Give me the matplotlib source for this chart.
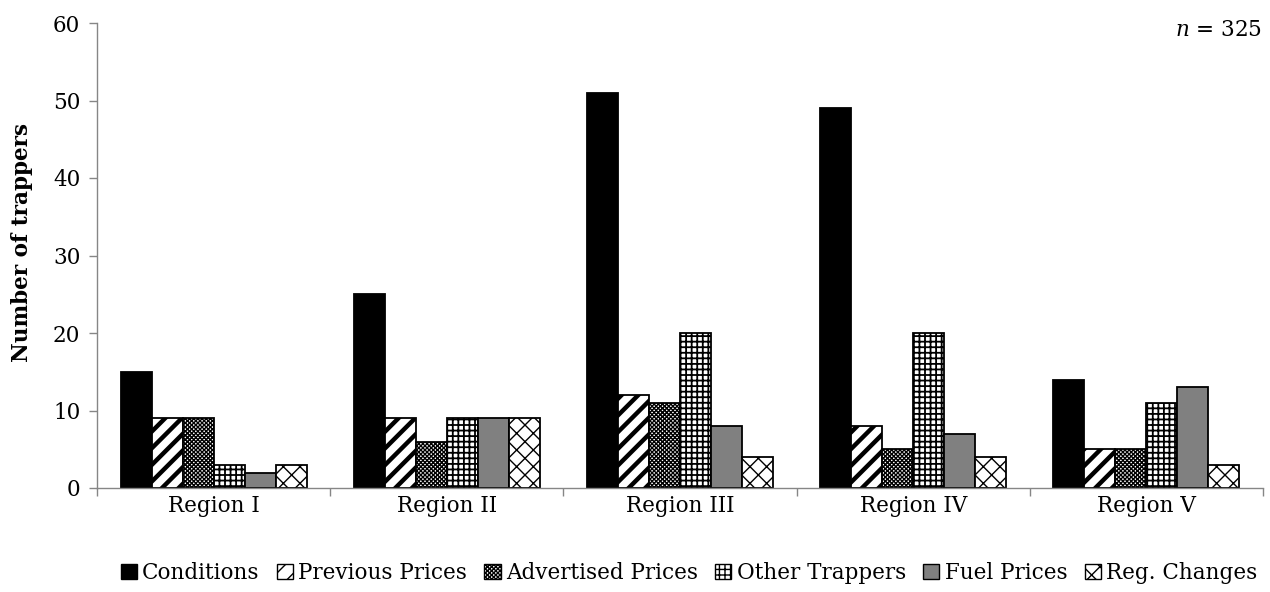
import matplotlib
matplotlib.use("Agg")
import matplotlib.pyplot as plt
import numpy as np
from matplotlib.patches import Patch

categories = ["Region I", "Region II", "Region III", "Region IV", "Region V"]
series_names = ["Conditions", "Previous Prices", "Advertised Prices",
                "Other Trappers", "Fuel Prices", "Reg. Changes"]
conditions = [15, 25, 51, 49, 14]
previous_prices = [9, 9, 12, 8, 5]
advertised_prices = [9, 6, 11, 5, 5]
other_trappers = [3, 9, 20, 20, 11]
fuel_prices = [2, 9, 8, 7, 13]
reg_changes = [3, 9, 4, 4, 3]
series_values = [conditions, previous_prices, advertised_prices,
                 other_trappers, fuel_prices, reg_changes]
y_ticks = [0, 10, 20, 30, 40, 50, 60]

styles = [
    dict(facecolor="black", hatch=None, hlw=1.0),
    dict(facecolor="white", hatch="//", hlw=3.2),
    dict(facecolor="white", hatch="xxxxxxxx", hlw=1.0),
    dict(facecolor="white", hatch="+++", hlw=1.3),
    dict(facecolor="#808080", hatch=None, hlw=1.0),
    dict(facecolor="white", hatch="xx", hlw=1.0),
]

font = "DejaVu Serif"
plt.rcParams["font.family"] = [font]
plt.rcParams["mathtext.fontset"] = "dejavuserif"
plt.rcParams["hatch.color"] = "black"
FS = 15.5

fig = plt.figure(figsize=(12.7, 5.92), dpi=100)
ax = fig.add_axes([97 / 1270, (592 - 488) / 592, (1263 - 97) / 1270, (488 - 23) / 592])

n_series = len(series_names)
group_width = 186 / 233
bw = group_width / n_series
x = np.arange(len(categories))
handles = []
for i, (name, vals, st) in enumerate(zip(series_names, series_values, styles)):
    offs = (i - (n_series - 1) / 2) * bw
    bars = ax.bar(x + offs, vals, width=bw, facecolor=st["facecolor"],
                  edgecolor="black", hatch=st["hatch"], linewidth=1.3,
                  label=name, zorder=2)
    for b in bars:
        try:
            b.set_hatch_linewidth(st["hlw"])
        except Exception:
            pass
    h = Patch(facecolor=st["facecolor"], edgecolor="black", hatch=st["hatch"], linewidth=1.0)
    try:
        h.set_hatch_linewidth(min(st["hlw"], 1.5))
    except Exception:
        pass
    handles.append(h)

ax.set_xlim(-0.5, len(categories) - 0.5)
ax.set_ylim(0, 60)
ax.set_yticks(y_ticks)
ax.set_xticks(x)
ax.set_xticklabels(categories, fontsize=FS)
ax.set_xticks(np.arange(-0.5, len(categories), 1.0), minor=True)
ax.tick_params(axis="x", which="major", length=0, pad=5)
ax.tick_params(axis="x", which="minor", length=6, color="#868686", width=1.0)
ax.tick_params(axis="y", length=6, color="#868686", width=1.0, labelsize=FS, pad=6)

for s in ["top", "right"]:
    ax.spines[s].set_visible(False)
ax.spines["left"].set_color("#868686")
ax.spines["bottom"].set_color("#868686")
ax.spines["left"].set_linewidth(1.0)
ax.spines["bottom"].set_linewidth(1.0)

ax.set_ylabel("Number of trappers", fontsize=FS, fontweight="bold",
              va="center")
ax.yaxis.set_label_coords((22 - 97) / 1166, (488 - 243) / 465)

fig.text(1262 / 1270, (592 - 30) / 592, r"$n$ = 325", fontsize=FS,
         ha="right", va="center")

fig.legend(handles=handles, labels=series_names, loc="center",
           bbox_to_anchor=(0.5425, (592 - 573) / 592), ncol=6, frameon=False,
           fontsize=FS, handlelength=0.75, handleheight=0.75, handletextpad=0.25,
           columnspacing=0.8, borderpad=0)

fig.savefig("out.png", dpi=100)
